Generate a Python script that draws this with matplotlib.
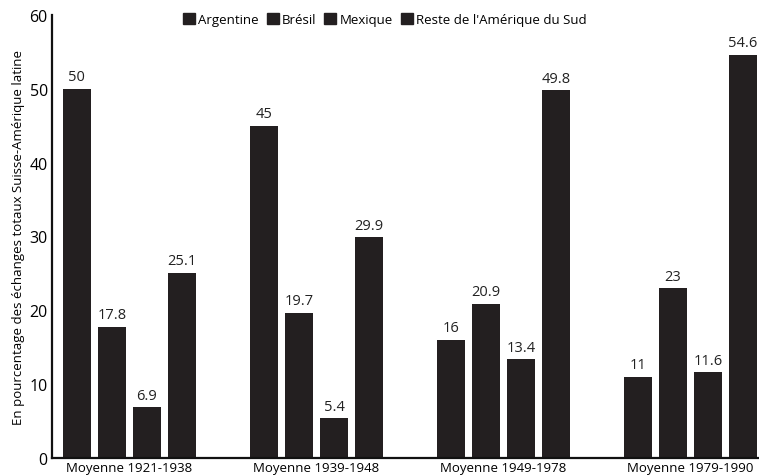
import matplotlib.pyplot as plt
import numpy as np
from matplotlib.patches import Patch

plt.rcParams['font.family'] = ['Open Sans', 'DejaVu Sans']

periodes = ['Moyenne 1921-1938', 'Moyenne 1939-1948', 'Moyenne 1949-1978', 'Moyenne 1979-1990']
series = ['Argentine', 'Brésil', 'Mexique', "Reste de l'Amérique du Sud"]
argentine = [50, 45, 16, 11]
bresil = [17.8, 19.7, 20.9, 23]
mexique = [6.9, 5.4, 13.4, 11.6]
reste = [25.1, 29.9, 49.8, 54.6]

couleur = '#231f20'

fig = plt.figure(figsize=(7.59, 4.77), dpi=100)
ax = fig.add_axes([0.0685, 0.0377, 0.9315, 0.9288])

x = np.arange(len(periodes))
pas = 35 / 187
larg = 28 / 187
for k, vals in enumerate([argentine, bresil, mexique, reste]):
    pos = x + (k - 1.5) * pas
    ax.bar(pos, vals, width=larg, color=couleur)
    for p, v in zip(pos, vals):
        ax.text(p, v + 0.6, f'{v:g}', ha='center', va='bottom', fontsize=10.5, color='#222222')

ax.set_xlim(-0.414, 3.366)
ax.set_ylim(0, 60)
ax.set_yticks(range(0, 61, 10))
ax.set_xticks(x)
ax.set_xticklabels(periodes, fontsize=9.5)
ax.tick_params(axis='y', labelsize=11.5, length=0, pad=3)
ax.tick_params(axis='x', length=0, pad=2)
for s in ['top', 'right']:
    ax.spines[s].set_visible(False)
for s in ['left', 'bottom']:
    ax.spines[s].set_linewidth(1.6)
    ax.spines[s].set_color('#111111')
ax.set_ylabel("En pourcentage des échanges totaux Suisse-Amérique latine", fontsize=9.5, labelpad=3)

poignees = [Patch(color=couleur, label=s) for s in series]
fig.legend(handles=poignees, loc='upper center', bbox_to_anchor=(0.507, 0.995), ncol=4,
           frameon=False, fontsize=9.5, handlelength=0.9, handleheight=0.9,
           handletextpad=0.25, columnspacing=0.6)

fig.savefig('out.png', dpi=100)
